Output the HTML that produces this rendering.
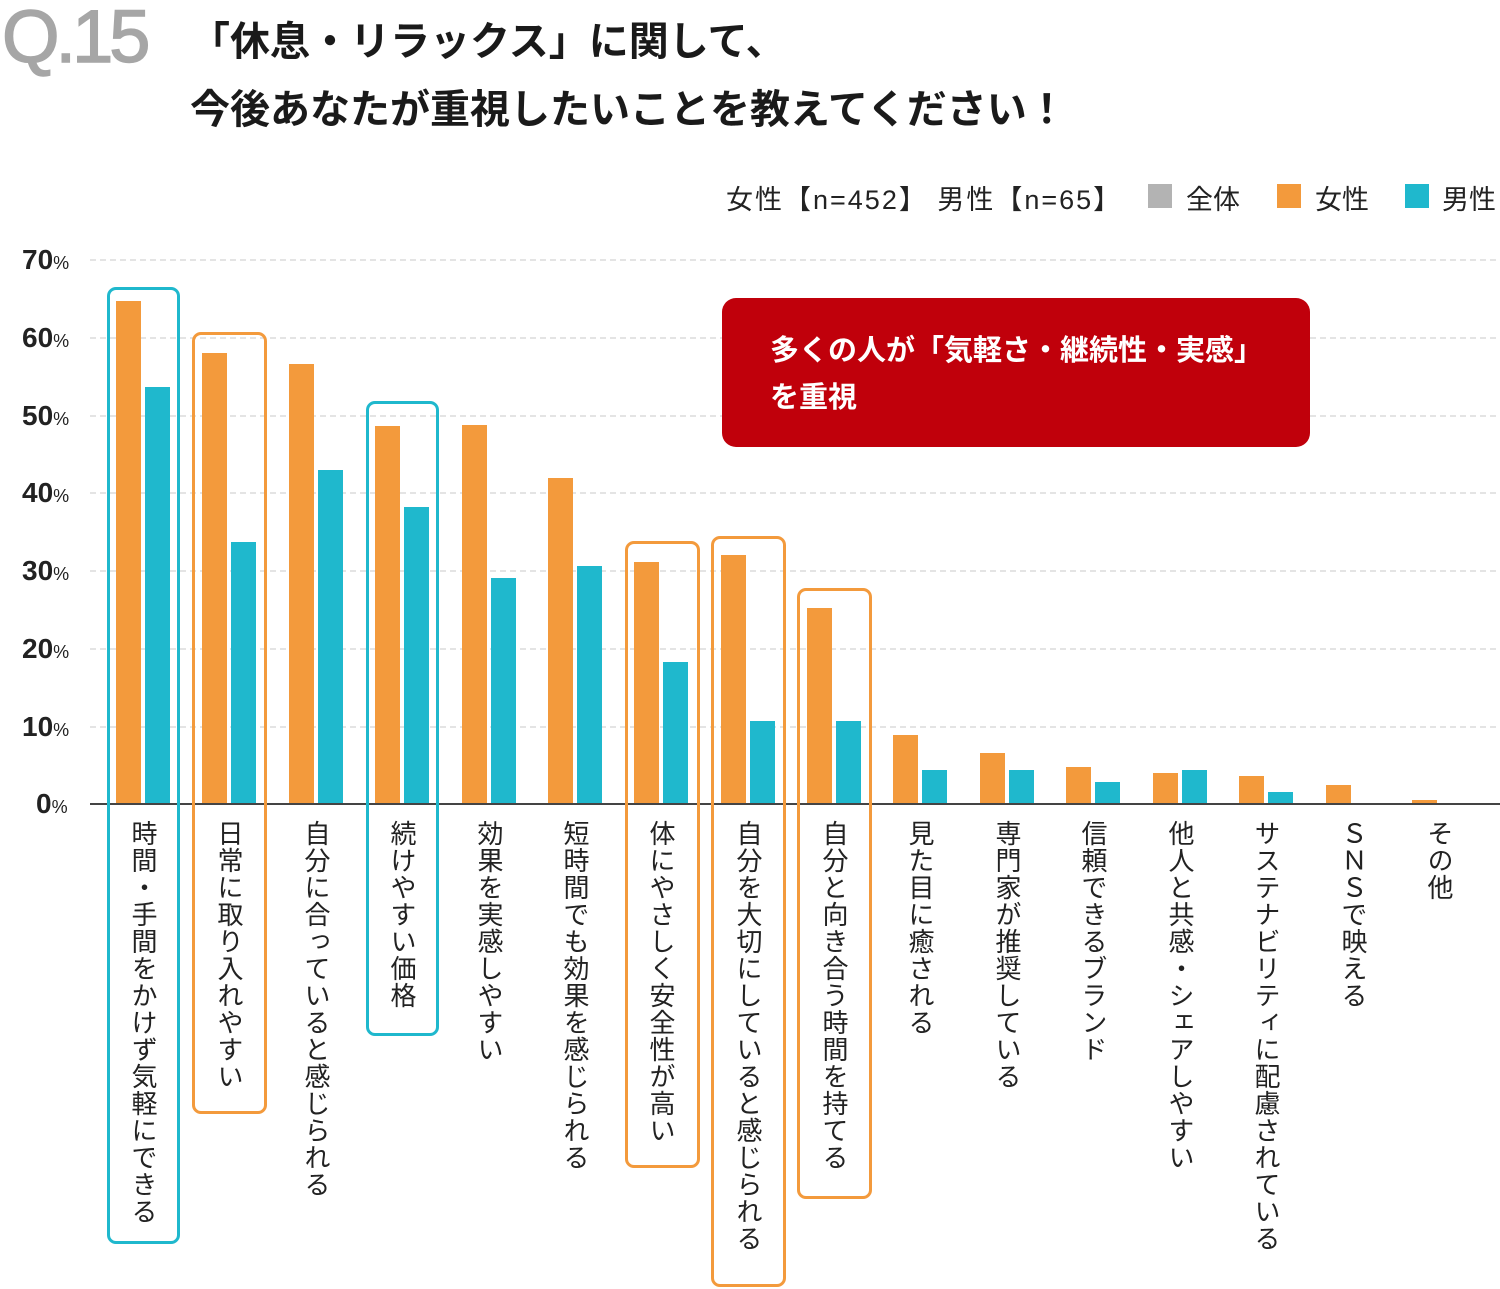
<!DOCTYPE html>
<html><head><meta charset="utf-8"><style>
body{margin:0;width:1500px;height:1289px;background:#fff;position:relative;overflow:hidden;font-family:"Liberation Sans","Noto Sans CJK JP",sans-serif;color:#222}
.abs{position:absolute}
.lbl{position:absolute;top:820px;writing-mode:vertical-rl;font-size:26px;line-height:28px;letter-spacing:1px;color:#222}
.box{position:absolute;border:3px solid;border-radius:9px;box-sizing:border-box}
</style></head><body>
<div class="abs" style="left:2px;top:-6px;font-size:74px;color:#a6a6a6;letter-spacing:-4px;-webkit-text-stroke:1.5px #a6a6a6">Q.15</div>
<div class="abs" style="left:190px;top:8px;font-size:40px;font-weight:bold;line-height:68px;color:#1a1a1a;white-space:nowrap">「休息・リラックス」に関して、<br>今後あなたが重視したいことを教えてください！</div>
<div class="abs" style="left:726px;top:178px;font-size:27px;white-space:nowrap;letter-spacing:2px">女性【n=452】 男性【n=65】</div>
<div class="abs" style="left:1148px;top:184px;width:24px;height:24px;background:#b3b3b3"></div>
<div class="abs" style="left:1186px;top:178px;font-size:27px">全体</div>
<div class="abs" style="left:1277px;top:184px;width:24px;height:24px;background:#f39a3c"></div>
<div class="abs" style="left:1315px;top:178px;font-size:27px">女性</div>
<div class="abs" style="left:1405px;top:184px;width:24px;height:24px;background:#1fb8cd"></div>
<div class="abs" style="left:1442px;top:178px;font-size:27px">男性</div>
<svg class="abs" style="left:0;top:0" width="1500" height="1289">
<g stroke="#c8c8c8" stroke-dasharray="6,4" stroke-width="1">
<line x1="90" x2="1497" y1="260" y2="260"/><line x1="90" x2="1497" y1="338" y2="338"/><line x1="90" x2="1497" y1="416" y2="416"/><line x1="90" x2="1497" y1="493" y2="493"/><line x1="90" x2="1497" y1="571" y2="571"/><line x1="90" x2="1497" y1="649" y2="649"/><line x1="90" x2="1497" y1="727" y2="727"/>
</g>
<g font-family="Liberation Sans" font-weight="bold" fill="#222">
<text x="22" y="269" font-size="28">70<tspan font-size="18" font-weight="normal">%</tspan></text>
<text x="22" y="347" font-size="28">60<tspan font-size="18" font-weight="normal">%</tspan></text>
<text x="22" y="425" font-size="28">50<tspan font-size="18" font-weight="normal">%</tspan></text>
<text x="22" y="502" font-size="28">40<tspan font-size="18" font-weight="normal">%</tspan></text>
<text x="22" y="580" font-size="28">30<tspan font-size="18" font-weight="normal">%</tspan></text>
<text x="22" y="658" font-size="28">20<tspan font-size="18" font-weight="normal">%</tspan></text>
<text x="22" y="736" font-size="28">10<tspan font-size="18" font-weight="normal">%</tspan></text>
<text x="36" y="813" font-size="28">0<tspan font-size="18" font-weight="normal">%</tspan></text>
</g>
<g fill="#f39a3c">
<rect x="116" y="301" width="25" height="503"/><rect x="202" y="353" width="25" height="451"/><rect x="289" y="364" width="25" height="440"/><rect x="375" y="426" width="25" height="378"/><rect x="462" y="425" width="25" height="379"/><rect x="548" y="478" width="25" height="326"/><rect x="634" y="562" width="25" height="242"/><rect x="721" y="555" width="25" height="249"/><rect x="807" y="608" width="25" height="196"/><rect x="893" y="735" width="25" height="69"/><rect x="980" y="753" width="25" height="51"/><rect x="1066" y="767" width="25" height="37"/><rect x="1153" y="773" width="25" height="31"/><rect x="1239" y="776" width="25" height="28"/><rect x="1326" y="785" width="25" height="19"/><rect x="1412" y="800" width="25" height="4"/>
</g>
<g fill="#1fb8cd">
<rect x="145" y="387" width="25" height="417"/><rect x="231" y="542" width="25" height="262"/><rect x="318" y="470" width="25" height="334"/><rect x="404" y="507" width="25" height="297"/><rect x="491" y="578" width="25" height="226"/><rect x="577" y="566" width="25" height="238"/><rect x="663" y="662" width="25" height="142"/><rect x="750" y="721" width="25" height="83"/><rect x="836" y="721" width="25" height="83"/><rect x="922" y="770" width="25" height="34"/><rect x="1009" y="770" width="25" height="34"/><rect x="1095" y="782" width="25" height="22"/><rect x="1182" y="770" width="25" height="34"/><rect x="1268" y="792" width="25" height="12"/>
</g>
<line x1="90" x2="1500" y1="804" y2="804" stroke="#444" stroke-width="2"/>
</svg>
<div class="box" style="left:107px;top:287px;width:73px;height:957px;border-color:#1fb8cd"></div>
<div class="box" style="left:192px;top:332px;width:75px;height:782px;border-color:#f39a3c"></div>
<div class="box" style="left:366px;top:401px;width:73px;height:635px;border-color:#1fb8cd"></div>
<div class="box" style="left:625px;top:541px;width:75px;height:627px;border-color:#f39a3c"></div>
<div class="box" style="left:711px;top:536px;width:75px;height:751px;border-color:#f39a3c"></div>
<div class="box" style="left:797px;top:588px;width:75px;height:611px;border-color:#f39a3c"></div>
<div class="lbl" style="left:129px">時間・手間をかけず気軽にできる</div>
<div class="lbl" style="left:215px">日常に取り入れやすい</div>
<div class="lbl" style="left:302px">自分に合っていると感じられる</div>
<div class="lbl" style="left:388px">続けやすい価格</div>
<div class="lbl" style="left:475px">効果を実感しやすい</div>
<div class="lbl" style="left:561px">短時間でも効果を感じられる</div>
<div class="lbl" style="left:647px">体にやさしく安全性が高い</div>
<div class="lbl" style="left:734px">自分を大切にしていると感じられる</div>
<div class="lbl" style="left:820px">自分と向き合う時間を持てる</div>
<div class="lbl" style="left:906px">見た目に癒される</div>
<div class="lbl" style="left:993px">専門家が推奨している</div>
<div class="lbl" style="left:1079px">信頼できるブランド</div>
<div class="lbl" style="left:1166px">他人と共感・シェアしやすい</div>
<div class="lbl" style="left:1252px">サステナビリティに配慮されている</div>
<div class="lbl" style="left:1339px">ＳＮＳで映える</div>
<div class="lbl" style="left:1425px">その他</div>
<div class="abs" style="left:722px;top:298px;width:588px;height:149px;background:#c0000b;border-radius:14px"></div>
<div class="abs" style="left:770px;top:328px;font-size:29px;font-weight:bold;color:#fff;line-height:47px">多くの人が「気軽さ・継続性・実感」<br>を重視</div>
</body></html>
